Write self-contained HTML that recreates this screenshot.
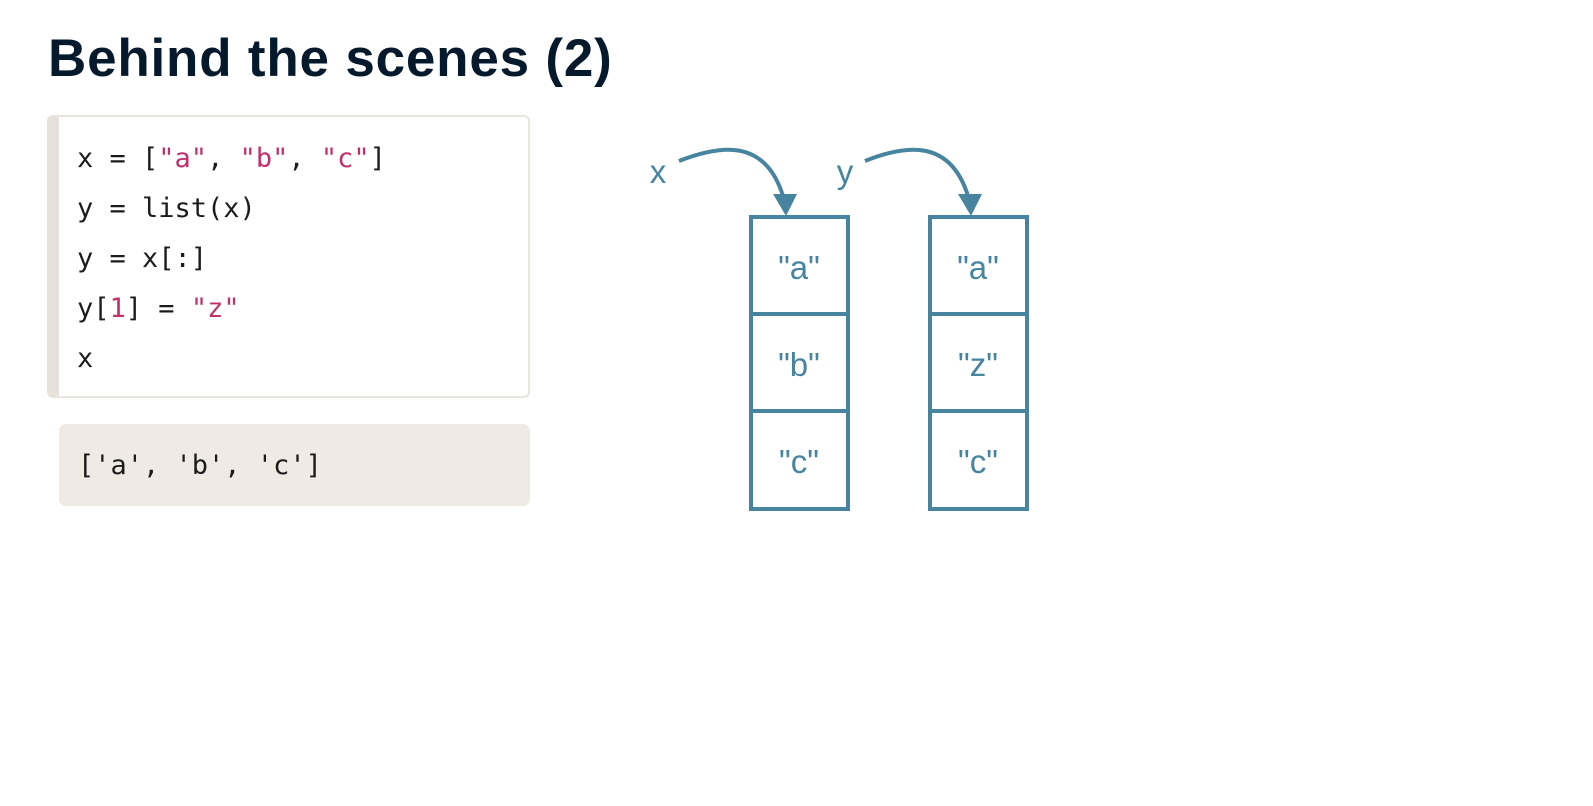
<!DOCTYPE html>
<html><head><style>
body{margin:0;width:1593px;height:806px;background:#fff;position:relative;overflow:hidden;font-family:"Liberation Sans",sans-serif}
h1{position:absolute;left:48px;top:28px;margin:0;font-size:53px;font-weight:bold;color:#05192d;letter-spacing:0.8px}
.code{position:absolute;left:47px;top:115px;width:469px;height:279px;border:2px solid #e8e5df;border-left:12px solid #e6e1da;border-radius:6px;background:#fff;box-sizing:content-box}
.code pre,.out pre{margin:0;font-family:"DejaVu Sans Mono","Liberation Mono",monospace;font-size:27px;color:#1b1b1b;line-height:50px}
.code pre{position:absolute;left:18px;top:17px}
.s{color:#c2306c}
.out{position:absolute;left:59px;top:424px;width:471px;height:82px;background:#efeae4;border-radius:7px}
.out pre{position:absolute;left:19px;top:17px}
</style></head><body>
<h1>Behind the scenes (2)</h1>
<div class="code"><pre>x = [<span class="s">"a"</span>, <span class="s">"b"</span>, <span class="s">"c"</span>]
y = list(x)
y = x[:]
y[<span class="s">1</span>] = <span class="s">"z"</span>
x</pre></div>
<div class="out"><pre>['a', 'b', 'c']</pre></div>
<svg style="position:absolute;left:0;top:0" width="1593" height="806">
<g fill="none" stroke="#47849f" stroke-width="4">
<rect x="751" y="217" width="97" height="292"/>
<line x1="751" y1="314" x2="848" y2="314"/>
<line x1="751" y1="411" x2="848" y2="411"/>
<rect x="930" y="217" width="97" height="292"/>
<line x1="930" y1="314" x2="1027" y2="314"/>
<line x1="930" y1="411" x2="1027" y2="411"/>
<path d="M679 161 C720 145 765 138 783 196"/>
<path d="M865 161 C905 145 950 138 968 196"/>
</g>
<g fill="#47849f">
<polygon points="773,194 797,194 786,216"/>
<polygon points="958,194 982,194 971,216"/>
</g>
<g fill="#47849f" font-family="Liberation Sans,sans-serif" font-size="33" text-anchor="middle">
<text x="658" y="183">x</text>
<text x="845" y="183">y</text>
<text x="799" y="279">"a"</text>
<text x="799" y="376">"b"</text>
<text x="799" y="473">"c"</text>
<text x="978" y="279">"a"</text>
<text x="978" y="376">"z"</text>
<text x="978" y="473">"c"</text>
</g>
</svg>
</body></html>
